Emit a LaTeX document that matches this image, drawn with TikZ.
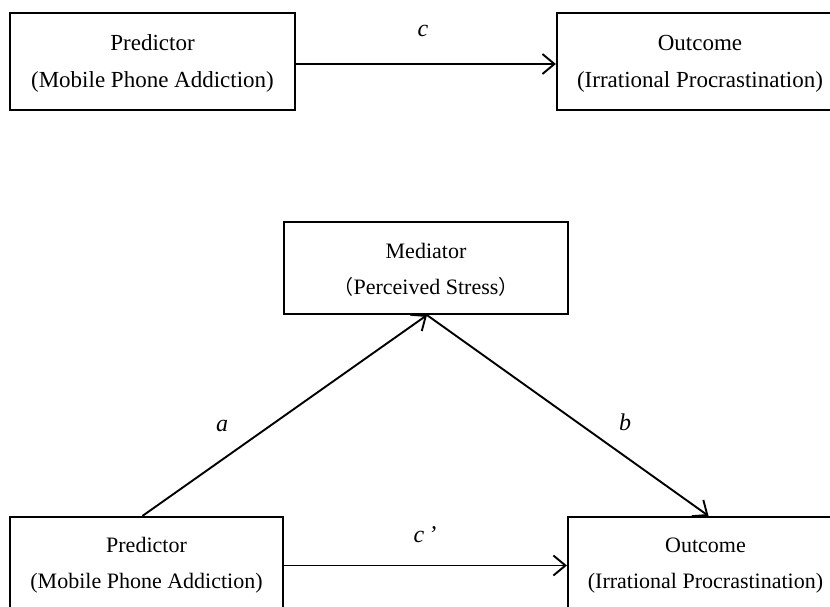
\documentclass[tikz,border=0pt]{standalone}
\usepackage{fontspec}
\setmainfont{Liberation Serif}
\newfontfamily\cjkfont{Noto Sans CJK SC}
\usetikzlibrary{arrows.meta}
\begin{document}
\begin{tikzpicture}[x=1pt,y=-1pt,
  box/.style={draw,line width=2.2pt,inner sep=0pt},
  txt/.style={align=center,inner sep=0pt,font=\fontsize{22}{36}\selectfont},
  conn/.style={line width=1.9pt,-{Straight Barb[length=12pt,width=20pt,line width=1.9pt]}},
  lab/.style={font=\fontsize{24}{26}\selectfont\itshape}]
\useasboundingbox (0,0) rectangle (830,607);
\node[box,minimum width=285pt,minimum height=97pt] (p1) at (152.5,61.5) {};
\node[box,minimum width=286pt,minimum height=97pt] (o1) at (700,61.5) {};
\node[box,minimum width=284pt,minimum height=92pt] (m) at (426,268) {};
\node[box,minimum width=273pt,minimum height=97pt] (p2) at (146.5,565.5) {};
\node[box,minimum width=275pt,minimum height=97pt] (o2) at (705.5,565.5) {};
\node[txt,font=\fontsize{23}{37}\selectfont] (tp1) at ([yshift=-2pt]p1.center) {Predictor\\(Mobile Phone Addiction)};
\node[txt,font=\fontsize{23}{37}\selectfont] (to1) at ([yshift=-2pt]o1.center) {Outcome\\(Irrational Procrastination)};
\node[txt] (tm) at ([yshift=-2pt]m.center) {Mediator\\{\cjkfont\fontsize{20}{20}\selectfont （}Perceived Stress{\cjkfont\fontsize{20}{20}\selectfont ）}};
\node[txt] (tp2) at ([yshift=0pt]p2.center) {Predictor\\(Mobile Phone Addiction)};
\node[txt] (to2) at ([yshift=0pt]o2.center) {Outcome\\(Irrational Procrastination)};
\draw[conn] ([yshift=-2.5pt]p1.east) -- ([yshift=-2.5pt]o1.west);
\coordinate (ms) at ([xshift=1pt]m.south);
\coordinate (ps) at ([xshift=-4pt]p2.north);
\coordinate (os) at ([xshift=3pt]o2.north);
\draw[conn] (ps) -- (ms);
\draw[conn] (ms) -- (os);
\draw[conn] (p2.east) -- (o2.west);
\node[lab] (lc) at (423,31) {c};
\node[lab] (la) at (222,426) {a};
\node[lab] (lb) at (625,422) {b};
\node[lab] (lc2) at (425,535) {c\,\textquoteright};
\end{tikzpicture}
\end{document}
